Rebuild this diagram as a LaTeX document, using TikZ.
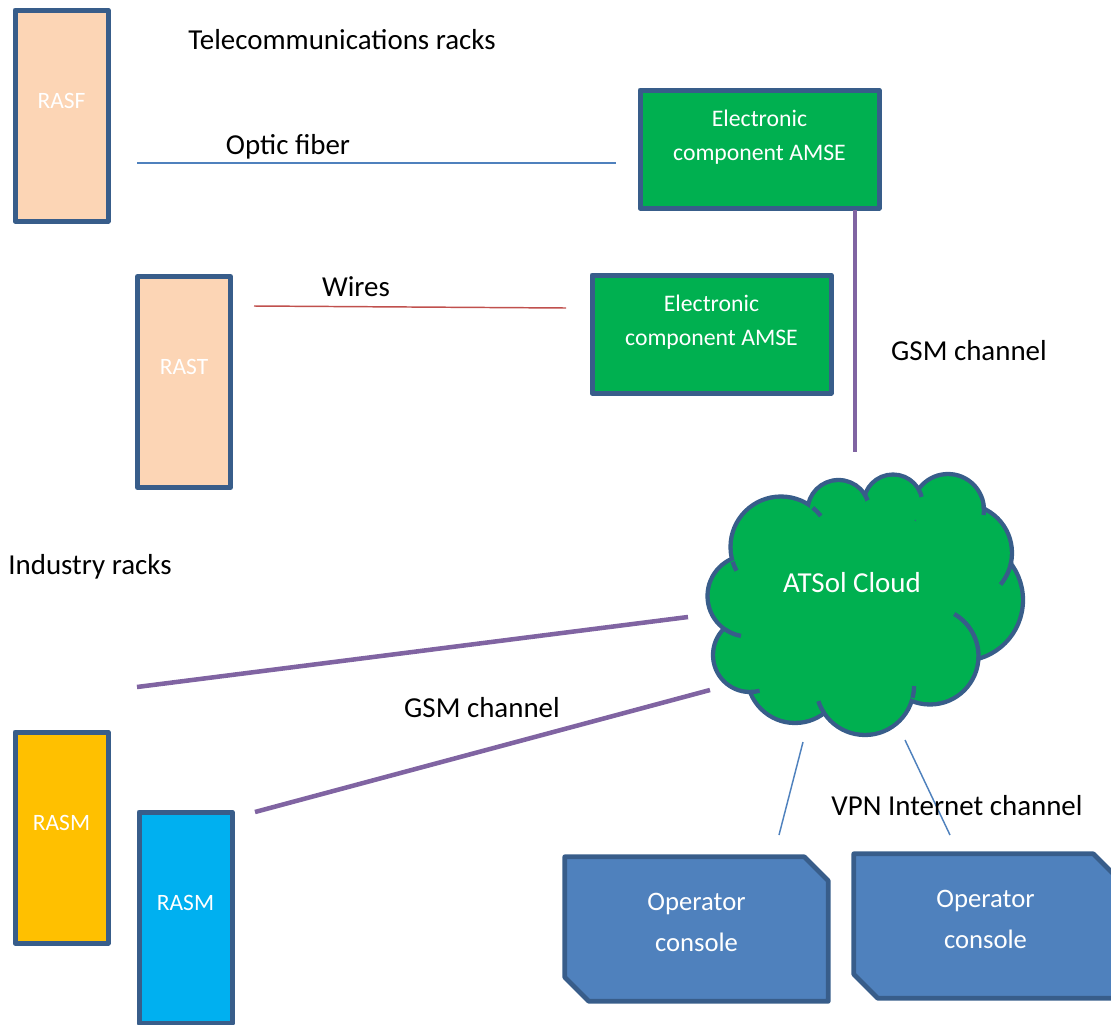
\documentclass[tikz,border=0pt]{standalone}
\usepackage{fontspec}
\setmainfont{Carlito}
\usetikzlibrary{backgrounds}
\definecolor{edgeblue}{HTML}{385D8A}
\definecolor{peach}{HTML}{FCD5B5}
\definecolor{amsegreen}{HTML}{00B050}
\definecolor{rasmorange}{HTML}{FFC000}
\definecolor{rasmcyan}{HTML}{00B0F0}
\definecolor{consoleblue}{HTML}{4F81BD}
\definecolor{gsmpurple}{HTML}{8064A2}
\definecolor{wirered}{HTML}{C0504D}
\tikzset{
  lbl/.style={font=\fontsize{21.7}{26}\selectfont,text height=14pt,text depth=0pt,inner sep=0pt},
  rack/.style={draw=edgeblue,line width=3.75pt,line join=round,minimum width=69.75pt,minimum height=158.25pt,inner sep=0pt,
    label={[font=\fontsize{17.6}{21}\selectfont,text=white,yshift=11.25pt]center:#1}},
  amse/.style={draw=edgeblue,fill=amsegreen,line width=3.75pt,line join=round,minimum width=179.25pt,minimum height=88.5pt,inner sep=0pt,
    label={[font=\fontsize{17.8}{25.5}\selectfont,text=white,align=center,text depth=0pt,yshift=10.5pt]center:Electronic\\component AMSE}},
  console/.style={minimum width=197.25pt,minimum height=108pt,inner sep=0pt,
    label={[font=\fontsize{20}{30.75}\selectfont,text=white,align=center,text depth=0pt,yshift=5.25pt]center:Operator\\console}},
  consoleshape/.style={draw=edgeblue,fill=consoleblue,line width=3.5pt,line join=round},
  gsm/.style={gsmpurple,line width=3.4pt},
  vpn/.style={consoleblue,line width=1.1pt}
}
\begin{document}
\begin{tikzpicture}[x=0.75pt,y=-0.75pt]
\useasboundingbox (0,0) rectangle (1111,1025);
% racks
\node[rack=RASF,fill=peach] (rasf) at (61.5,115.5) {};
\node[rack=RAST,fill=peach] (rast) at (184,382) {};
\node[rack=RASM,fill=rasmorange] (rasmA) at (61.5,837.5) {};
\node[rack=RASM,fill=rasmcyan] (rasmB) at (185.5,917.5) {};
% AMSE boxes
\node[amse] (amseA) at (759.5,149) {};
\node[amse] (amseB) at (711.5,334) {};
% cloud: puffs, then fill, then the inner ends of the puffs
\def\puffs{781/547/50.5,838.5/511/31,893/504/29.5,948/510/36,963/553/49,962/600/61,930/656/48.5,865/686/49,795/675/48,750/655/37,748/596/40.5}
\foreach \cx/\cy/\r in \puffs
  \draw[edgeblue,line width=6.5pt] (\cx,\cy) circle[radius=\r-2.2];
\foreach \cx/\cy/\r in \puffs
  \fill[amsegreen] (\cx,\cy) circle[radius=\r-2.2];
\fill[amsegreen] (860,600) ellipse[x radius=115,y radius=90];
\foreach \cx/\cy/\r/\a/\b in {781/547/50.5/163/152,781/547/50.5/-51/-38,838.5/511/31/-36/-20,893/504/29.5/-27/-14,
    948/510/36/-8/8,963/553/49/10/40,930/656/48.5/2/-60,865/686/49/14/0,865/686/49/147/162,750/655/37/90/75,748/596/40.5/124/100}
  \draw[edgeblue,line width=3.25pt] (\cx,\cy) ++(\a:\r) arc[start angle=\a,end angle=\b,radius=\r];
\node[lbl,text=white] (cloud) at (852,583) {ATSol Cloud};
% consoles
\node[console] (opA) at (696.5,929) {};
\node[console] (opB) at (985.5,926) {};
\begin{scope}[on background layer]
\foreach \op in {opA,opB}
  \draw[consoleshape] (\op.north west) -- ([xshift=-18pt]\op.north east) -- ([yshift=-18pt]\op.north east)
    -- (\op.south east) -- ([xshift=18pt]\op.south west) -- ([yshift=18pt]\op.south west) -- cycle;
\end{scope}
% connectors
\coordinate (fiberL) at (137,163);
\coordinate (fiberR) at (616,163);
\coordinate (wireL) at (254,306);
\coordinate (wireR) at (566,308);
\coordinate (gsmT) at (855,210);
\coordinate (gsmB) at (855,452);
\coordinate (indL) at (137,687);
\coordinate (indR) at (688,617);
\coordinate (rasmL) at (255,812);
\coordinate (rasmR) at (710,690);
\coordinate (vpnA) at (803,742);
\coordinate (vpnAe) at (779,835);
\coordinate (vpnB) at (905,740);
\coordinate (vpnBe) at (950,835);
\draw[consoleblue,line width=1.1pt] (fiberL) -- (fiberR);
\draw[wirered,line width=1.1pt] (wireL) -- (wireR);
\draw[gsm] (gsmT) -- (gsmB);
\draw[gsm] (indL) -- (indR);
\draw[gsm] (rasmL) -- (rasmR);
\draw[vpn] (vpnA) -- (vpnAe);
\draw[vpn] (vpnB) -- (vpnBe);
% labels
\node[lbl] (telecom) at (342,40) {Telecommunications racks};
\node[lbl] (fiber) at (288,145) {Optic fiber};
\node[lbl] (wires) at (356,287) {Wires};
\node[lbl] (gsmup) at (969,351) {GSM channel};
\node[lbl] (industry) at (90,565) {Industry racks};
\node[lbl] (gsmdown) at (482,708) {GSM channel};
\node[lbl] (vpn) at (957,806) {VPN Internet channel};
\end{tikzpicture}
\end{document}
